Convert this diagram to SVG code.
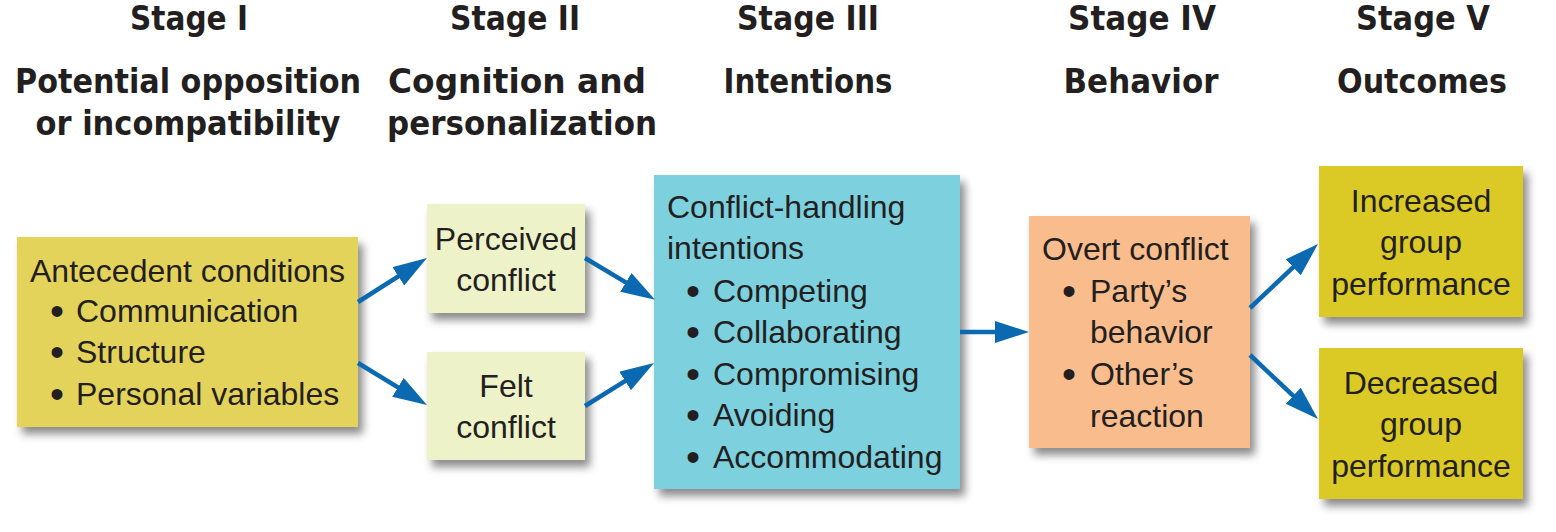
<svg xmlns="http://www.w3.org/2000/svg" width="1556" height="532" viewBox="0 0 1556 532">
<defs>
<style>
.hdr{font-family:"DejaVu Sans",sans-serif;font-weight:bold;font-size:33px;fill:#231f20;text-anchor:middle}
.t{font-family:"Liberation Sans",Arial,sans-serif;font-size:32px;fill:#231f20}
.c{text-anchor:middle}
.b{font-size:40px}
.conn line{stroke:#0a69b0;stroke-width:4.5;fill:none;marker-end:url(#ah)}
</style>
<filter id="sh" x="-10%" y="-10%" width="130%" height="130%">
<feDropShadow dx="5" dy="7" stdDeviation="4" flood-color="#000" flood-opacity="0.45"/>
</filter>
<marker id="ah" markerUnits="userSpaceOnUse" markerWidth="40" markerHeight="26" refX="14" refY="11" orient="auto">
<path d="M0,0 L34,11 L0,22 z" fill="#0a69b0"/>
</marker>
</defs>
<rect width="1556" height="532" fill="#fff"/>

<g id="headers">
<text class="hdr" x="189" y="30" textLength="118" lengthAdjust="spacingAndGlyphs">Stage I</text>
<text class="hdr" x="515" y="30" textLength="130" lengthAdjust="spacingAndGlyphs">Stage II</text>
<text class="hdr" x="808" y="30" textLength="142" lengthAdjust="spacingAndGlyphs">Stage III</text>
<text class="hdr" x="1142" y="30" textLength="148" lengthAdjust="spacingAndGlyphs">Stage IV</text>
<text class="hdr" x="1423" y="30" textLength="134" lengthAdjust="spacingAndGlyphs">Stage V</text>
<text class="hdr" x="188" y="93" textLength="346" lengthAdjust="spacingAndGlyphs">Potential opposition</text>
<text class="hdr" x="188" y="135" textLength="305" lengthAdjust="spacingAndGlyphs">or incompatibility</text>
<text class="hdr" x="517" y="93" textLength="258" lengthAdjust="spacingAndGlyphs">Cognition and</text>
<text class="hdr" x="522" y="135" textLength="270" lengthAdjust="spacingAndGlyphs">personalization</text>
<text class="hdr" x="808" y="93" textLength="169" lengthAdjust="spacingAndGlyphs">Intentions</text>
<text class="hdr" x="1141" y="93" textLength="155" lengthAdjust="spacingAndGlyphs">Behavior</text>
<text class="hdr" x="1422" y="93" textLength="170" lengthAdjust="spacingAndGlyphs">Outcomes</text>
</g>

<g id="antecedent">
<rect x="17" y="237" width="341" height="190" fill="#e4d35a" filter="url(#sh)"/>
<text class="t"><tspan x="30" y="282">Antecedent conditions</tspan><tspan class="b" x="50" y="325">•</tspan><tspan x="76" y="322">Communication</tspan><tspan class="b" x="50" y="366">•</tspan><tspan x="76" y="363">Structure</tspan><tspan class="b" x="50" y="408">•</tspan><tspan x="76" y="405">Personal variables</tspan></text>
</g>

<g id="perceived">
<rect x="427" y="204" width="158" height="109" fill="#eef2c8" filter="url(#sh)"/>
<text class="t c"><tspan x="506" y="250">Perceived</tspan><tspan x="506" y="291">conflict</tspan></text>
</g>

<g id="felt">
<rect x="427" y="352" width="158" height="108" fill="#eef2c8" filter="url(#sh)"/>
<text class="t c"><tspan x="506" y="397">Felt</tspan><tspan x="506" y="438">conflict</tspan></text>
</g>

<g id="intentions">
<rect x="654" y="175" width="306" height="314" fill="#7dd0de" filter="url(#sh)"/>
<text class="t"><tspan x="667" y="218">Conflict-handling</tspan><tspan x="667" y="259">intentions</tspan><tspan class="b" x="686" y="305">•</tspan><tspan x="713" y="302">Competing</tspan><tspan class="b" x="686" y="346">•</tspan><tspan x="713" y="343">Collaborating</tspan><tspan class="b" x="686" y="388">•</tspan><tspan x="713" y="385">Compromising</tspan><tspan class="b" x="686" y="429">•</tspan><tspan x="713" y="426">Avoiding</tspan><tspan class="b" x="686" y="471">•</tspan><tspan x="713" y="468">Accommodating</tspan></text>
</g>

<g id="overt">
<rect x="1029" y="216" width="221" height="232" fill="#f9bc8d" filter="url(#sh)"/>
<text class="t"><tspan x="1042" y="260">Overt conflict</tspan><tspan class="b" x="1062" y="305">•</tspan><tspan x="1090" y="302">Party’s</tspan><tspan x="1090" y="343">behavior</tspan><tspan class="b" x="1062" y="388">•</tspan><tspan x="1090" y="385">Other’s</tspan><tspan x="1090" y="427">reaction</tspan></text>
</g>

<g id="increased">
<rect x="1319" y="166" width="204" height="151" fill="#dbc927" filter="url(#sh)"/>
<text class="t c"><tspan x="1421" y="212">Increased</tspan><tspan x="1421" y="253">group</tspan><tspan x="1421" y="295">performance</tspan></text>
</g>

<g id="decreased">
<rect x="1319" y="348" width="204" height="151" fill="#dbc927" filter="url(#sh)"/>
<text class="t c"><tspan x="1421" y="394">Decreased</tspan><tspan x="1421" y="435">group</tspan><tspan x="1421" y="477">performance</tspan></text>
</g>

<g id="connectors" class="conn">
<line x1="358" y1="302" x2="410.1" y2="268.8"/>
<line x1="358" y1="363" x2="409.9" y2="394.6"/>
<line x1="585" y1="258" x2="637.9" y2="289.6"/>
<line x1="585" y1="406" x2="637.0" y2="373.6"/>
<line x1="960" y1="332" x2="1009" y2="332"/>
<line x1="1250" y1="308" x2="1303.4" y2="257.7"/>
<line x1="1250" y1="355" x2="1303.4" y2="405.3"/>
</g>
</svg>
